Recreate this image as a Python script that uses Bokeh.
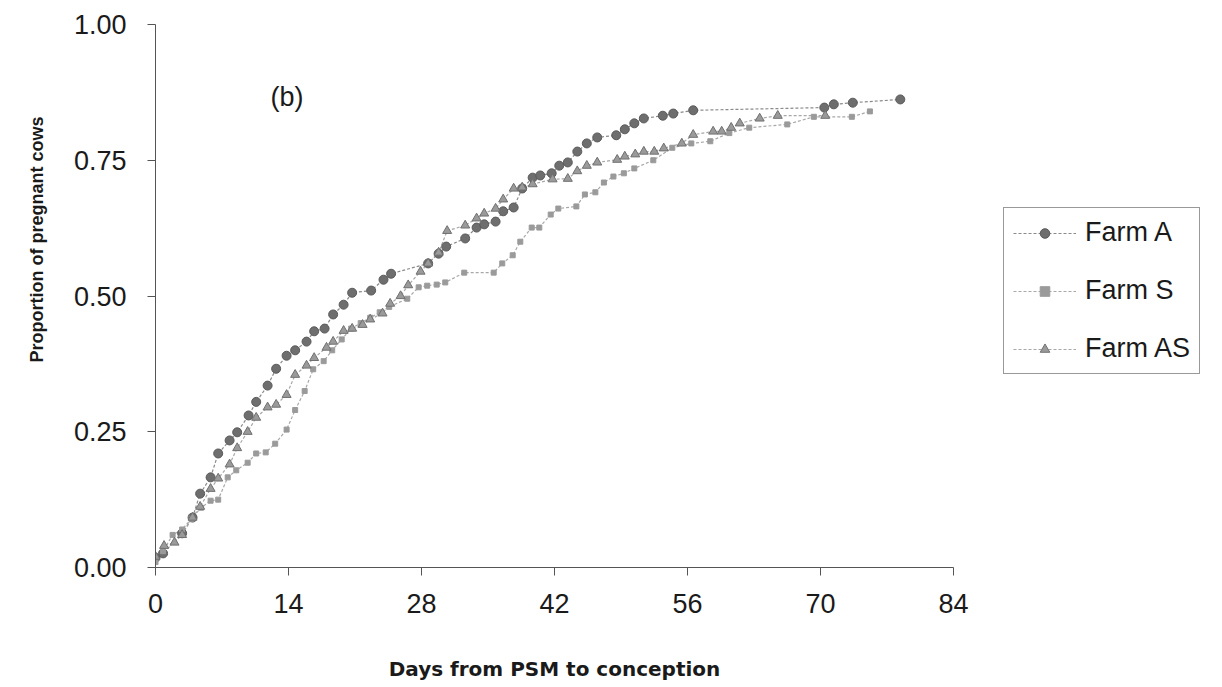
from bokeh.plotting import figure
from bokeh.models import (Range1d, FixedTicker, PrintfTickFormatter, Legend, LegendItem,
                          Label, ColumnDataSource, Title)
from bokeh.embed import file_html
from bokeh.resources import INLINE

# ---- data ----
farm_a_days = [0, 0.8, 2.8, 3.9, 4.7, 5.8, 6.6, 7.8, 8.6, 9.8, 10.6, 11.8, 12.7, 13.8, 14.7,
               15.9, 16.7, 17.8, 18.7, 19.8, 20.7, 22.7, 24.0, 24.8, 28.7, 29.8, 30.6, 32.6,
               33.8, 34.6, 35.8, 36.6, 37.7, 38.6, 39.7, 40.5, 41.7, 42.5, 43.4, 44.4, 45.4,
               46.5, 48.5, 49.4, 50.4, 51.4, 53.4, 54.5, 56.6, 70.4, 71.4, 73.4, 78.4]
farm_a_prop = [0.018, 0.026, 0.063, 0.092, 0.136, 0.166, 0.21, 0.234, 0.249, 0.28, 0.305,
               0.335, 0.366, 0.39, 0.40, 0.416, 0.435, 0.44, 0.466, 0.484, 0.506, 0.51, 0.53,
               0.541, 0.56, 0.578, 0.591, 0.606, 0.626, 0.632, 0.637, 0.656, 0.663, 0.698,
               0.718, 0.722, 0.726, 0.740, 0.746, 0.766, 0.781, 0.792, 0.796, 0.807, 0.818,
               0.827, 0.832, 0.836, 0.842, 0.847, 0.853, 0.856, 0.862]

farm_s_days = [0, 0.8, 1.8, 2.8, 3.8, 4.8, 5.8, 6.6, 7.6, 8.5, 9.7, 10.6, 11.6, 12.6, 13.8,
               14.7, 15.7, 16.6, 17.7, 18.6, 19.6, 20.6, 21.6, 22.6, 23.6, 24.6, 26.5, 27.7,
               28.6, 29.6, 30.5, 32.5, 35.6, 36.5, 37.6, 38.4, 39.6, 40.4, 41.6, 42.4, 44.3,
               45.2, 46.3, 47.2, 48.2, 49.3, 50.4, 52.4, 54.4, 56.4, 58.4, 60.4, 62.5, 66.5,
               69.3, 73.3, 75.2]
farm_s_prop = [0.01, 0.03, 0.06, 0.07, 0.09, 0.11, 0.123, 0.125, 0.166, 0.179, 0.193, 0.21,
               0.212, 0.228, 0.254, 0.29, 0.325, 0.365, 0.38, 0.40, 0.42, 0.44, 0.45, 0.46,
               0.47, 0.48, 0.495, 0.516, 0.519, 0.521, 0.525, 0.543, 0.543, 0.56, 0.575, 0.60,
               0.626, 0.626, 0.65, 0.661, 0.665, 0.687, 0.691, 0.709, 0.72, 0.726, 0.735,
               0.75, 0.773, 0.781, 0.785, 0.80, 0.81, 0.816, 0.83, 0.83, 0.84]

farm_as_days = [0, 0.9, 2.0, 2.8, 3.9, 4.7, 5.8, 6.6, 7.8, 8.6, 9.7, 10.6, 11.8, 12.7, 13.8,
                14.7, 15.9, 16.7, 18.0, 18.7, 19.8, 20.7, 21.8, 22.6, 23.9, 24.7, 25.8, 26.6,
                27.9, 28.7, 29.8, 30.7, 32.6, 33.8, 34.6, 35.8, 36.6, 37.7, 38.6, 39.7, 41.8,
                43.4, 44.4, 45.4, 46.5, 48.6, 49.4, 50.5, 51.4, 52.5, 53.5, 55.4, 56.6, 58.7,
                59.6, 60.6, 61.5, 63.6, 65.5, 70.5]
farm_as_prop = [0.02, 0.04, 0.046, 0.06, 0.092, 0.112, 0.145, 0.164, 0.19, 0.22, 0.25, 0.276,
                0.295, 0.30, 0.318, 0.355, 0.372, 0.386, 0.405, 0.416, 0.436, 0.44, 0.447,
                0.457, 0.468, 0.486, 0.50, 0.52, 0.545, 0.56, 0.58, 0.62, 0.63, 0.643, 0.652,
                0.661, 0.678, 0.698, 0.70, 0.706, 0.715, 0.716, 0.73, 0.74, 0.746, 0.751,
                0.757, 0.761, 0.766, 0.766, 0.772, 0.781, 0.797, 0.803, 0.803, 0.81, 0.818,
                0.827, 0.832, 0.832]

series_names = ["Farm A", "Farm S", "Farm AS"]
x_ticks = [0, 14, 28, 42, 56, 70, 84]
y_ticks = [0.0, 0.25, 0.5, 0.75, 1.0]

FONT = "Liberation Sans"

p = figure(frame_width=798, frame_height=543,
           min_border_left=155, min_border_right=255, min_border_top=24, min_border_bottom=111,
           x_range=Range1d(0, 84), y_range=Range1d(0, 1),
           output_backend="svg", toolbar_location=None, tools="")

p.background_fill_color = "white"
p.border_fill_color = "white"
p.outline_line_color = None
p.xgrid.visible = False
p.ygrid.visible = False

for ax in (p.xaxis[0], p.yaxis[0]):
    ax.axis_line_color = "#555555"
    ax.axis_line_width = 1
    ax.major_tick_line_color = "#555555"
    ax.major_tick_out = 8
    ax.major_tick_in = 0
    ax.minor_tick_line_color = None
    ax.major_label_text_font = FONT
    ax.major_label_text_font_size = "27px"
    ax.major_label_text_color = "#1a1a1a"
    ax.axis_label_text_font_style = "bold"
    ax.axis_label_text_color = "#1a1a1a"

p.xaxis.ticker = FixedTicker(ticks=x_ticks)
p.yaxis.ticker = FixedTicker(ticks=y_ticks)
p.yaxis.formatter = PrintfTickFormatter(format="%.2f")
p.xaxis.major_label_standoff = 18
p.yaxis.major_label_standoff = 21
p.xaxis.axis_label = "Days from PSM to conception"
p.xaxis.axis_label_text_font = "DejaVu Sans"
p.xaxis.axis_label_text_font_size = "20px"
p.xaxis.axis_label_standoff = 41

ytitle = Title(text="Proportion of pregnant cows", align="right", offset=92, standoff=44,
               vertical_align="top",
               text_font=FONT, text_font_size="18px", text_font_style="bold",
               text_color="#1a1a1a")
p.add_layout(ytitle, "left")

line_col = "#a8a8a8"

src_a = ColumnDataSource(dict(x=farm_a_days, y=farm_a_prop))
src_s = ColumnDataSource(dict(x=farm_s_days, y=farm_s_prop))
src_as = ColumnDataSource(dict(x=farm_as_days, y=farm_as_prop))

la = p.line("x", "y", source=src_a, line_color="#8a8a8a", line_width=1.2, line_dash="3 2")
ls = p.line("x", "y", source=src_s, line_color=line_col, line_width=1.2, line_dash="3 2")
las = p.line("x", "y", source=src_as, line_color=line_col, line_width=1.2, line_dash="3 2")

sa = p.scatter("x", "y", source=src_a, marker="circle", size=9,
               fill_color="#6e6e6e", line_color="#5a5a5a")
ss = p.scatter("x", "y", source=src_s, marker="square", size=5,
               fill_color="#9a9a9a", line_color="#9a9a9a")
sas = p.scatter("x", "y", source=src_as, marker="triangle", size=9,
                fill_color="#9a9a9a", line_color="#707070")

legend = Legend(items=[
    LegendItem(label=series_names[0], renderers=[la, sa]),
    LegendItem(label=series_names[1], renderers=[ls, ss]),
    LegendItem(label=series_names[2], renderers=[las, sas]),
], location=(50, 193))
legend.label_text_font = FONT
legend.label_text_font_size = "27px"
legend.label_text_color = "#1a1a1a"
legend.glyph_width = 63
legend.glyph_height = 24
legend.label_height = 24
legend.spacing = 27
legend.padding = 9
legend.margin = 0
legend.label_standoff = 9
legend.border_line_color = "#333333"
legend.border_line_width = 1
legend.background_fill_color = "white"
legend.background_fill_alpha = 1
p.add_layout(legend, "right")

p.add_layout(Label(x=12.1, y=0.867, text="(b)", text_font=FONT, text_font_size="27px",
                   text_color="#1a1a1a", text_baseline="middle", text_align="left"))

open("out.html", "w").write(file_html(p, INLINE))
